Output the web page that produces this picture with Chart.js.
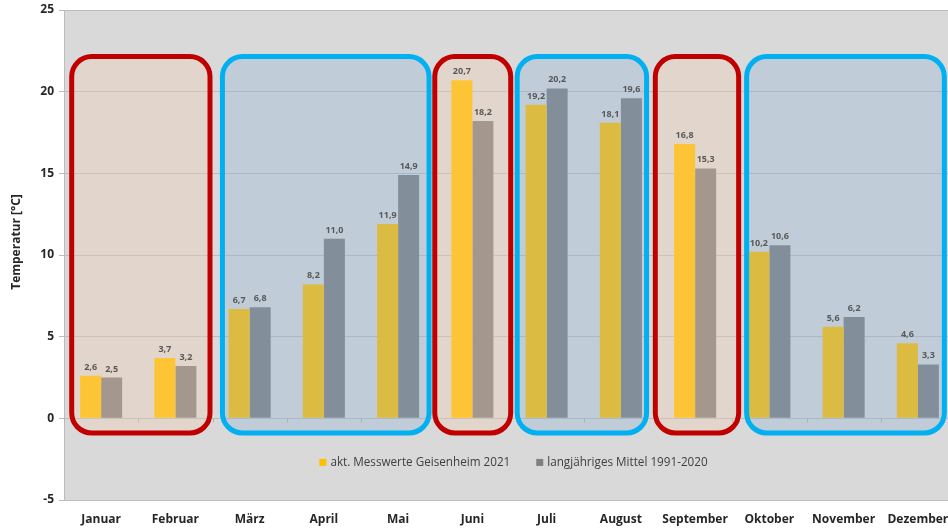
<!DOCTYPE html>
<html>
<head>
<meta charset="utf-8">
<script src="https://cdn.jsdelivr.net/npm/chart.js@4.4.0/dist/chart.umd.min.js"></script>
<style>
  body { margin: 0; background: #fff; overflow: hidden; }
  #wrap { width: 960px; height: 529px; }
</style>
</head>
<body>
<div id="wrap"><canvas id="tempChart"></canvas></div>
<script>
// data
var months = ['Januar', 'Februar', 'März', 'April', 'Mai', 'Juni', 'Juli', 'August', 'September', 'Oktober', 'November', 'Dezember']
var values2021 = [2.6, 3.7, 6.7, 8.2, 11.9, 20.7, 19.2, 18.1, 16.8, 10.2, 5.6, 4.6]
var valuesMean = [2.5, 3.2, 6.8, 11.0, 14.9, 18.2, 20.2, 19.6, 15.3, 10.6, 6.2, 3.3]
var seriesNames = ['akt. Messwerte Geisenheim 2021', 'langjähriges Mittel 1991-2020']
var yTitle = 'Temperatur [°C]'

// month groups marked with boxes (first month, last month, warm or cool)
var groupFrom = [0, 2, 5, 6, 8, 9]
var groupTo = [1, 4, 5, 7, 8, 11]
var groupKind = ['warm', 'cool', 'warm', 'cool', 'warm', 'cool']

// how far each box reaches past its months, in category widths
var boxPadL = [0.43, 0.40, 0.54, 0.43, 0.57, 0.34]
var boxPadR = [0.50, 0.45, 0.55, 0.38, 0.62, 0.39]

var FONT = "'Open Sans', sans-serif"
var boxStyle = {
  warm: { stroke: '#c00000', fill: 'rgba(250, 207, 174, 0.3)' },
  cool: { stroke: '#00b0f0', fill: 'rgba(140, 174, 217, 0.3)' }
}

function fmt (v) {
  return v.toFixed(1).replace('.', ',')
}

function roundRect (ctx, x, y, w, h, r) {
  ctx.beginPath()
  ctx.moveTo(x + r, y)
  ctx.lineTo(x + w - r, y)
  ctx.arcTo(x + w, y, x + w, y + r, r)
  ctx.lineTo(x + w, y + h - r)
  ctx.arcTo(x + w, y + h, x + w - r, y + h, r)
  ctx.lineTo(x + r, y + h)
  ctx.arcTo(x, y + h, x, y + h - r, r)
  ctx.lineTo(x, y + r)
  ctx.arcTo(x, y, x + r, y, r)
  ctx.closePath()
}

var decorations = {
  id: 'decorations',
  beforeDraw: function (chart) {
    var a = chart.chartArea
    var ctx = chart.ctx
    ctx.save()
    ctx.fillStyle = '#d9d9d9'
    ctx.fillRect(a.left, a.top, a.right - a.left, a.bottom - a.top)
    ctx.restore()
  },
  afterDatasetsDraw: function (chart) {
    var ctx = chart.ctx
    var x = chart.scales.x
    var y = chart.scales.y
    var cw = x.getPixelForValue(1) - x.getPixelForValue(0)

    // tick marks on the zero line between months
    ctx.save()
    ctx.strokeStyle = '#b4b4b4'
    ctx.lineWidth = 1
    var y0 = Math.round(y.getPixelForValue(0)) + 0.5
    for (var i = 0; i <= months.length; i++) {
      var bx = Math.round(x.getPixelForValue(i) - cw / 2) + 0.5
      ctx.beginPath()
      ctx.moveTo(bx, y0)
      ctx.lineTo(bx, y0 + 4)
      ctx.stroke()
    }
    ctx.restore()

    // boxes
    var lw = 5
    var top = y.getPixelForValue(22.3)
    var bottom = y.getPixelForValue(-1.05)
    for (var g = 0; g < groupFrom.length; g++) {
      var st = boxStyle[groupKind[g]]
      var l = x.getPixelForValue(groupFrom[g]) - boxPadL[g] * cw + lw / 2
      var r = x.getPixelForValue(groupTo[g]) + boxPadR[g] * cw - lw / 2
      var t = top + lw / 2
      var b = bottom - lw / 2
      ctx.save()
      roundRect(ctx, l, t, r - l, b - t, 20)
      ctx.fillStyle = st.fill
      ctx.fill()
      ctx.lineWidth = lw
      ctx.strokeStyle = st.stroke
      ctx.stroke()
      ctx.restore()
    }

    // value labels
    ctx.save()
    ctx.font = 'bold 9px ' + FONT
    ctx.fillStyle = '#595959'
    ctx.textAlign = 'center'
    ctx.textBaseline = 'bottom'
    chart.data.datasets.forEach(function (ds, di) {
      chart.getDatasetMeta(di).data.forEach(function (bar, k) {
        ctx.fillText(fmt(ds.data[k]), bar.x, bar.y - 4)
      })
    })
    ctx.restore()

    // legend inside the plot
    ctx.save()
    ctx.font = '11.7px ' + FONT
    ctx.textBaseline = 'middle'
    var sq = 7
    var gapSq = 4
    var gapItem = 26
    var widths = seriesNames.map(function (n) { return sq + gapSq + ctx.measureText(n).width })
    var total = widths[0] + gapItem + widths[1]
    var a = chart.chartArea
    var lx = (a.left + a.right) / 2 + 4 - total / 2
    var ly = y.getPixelForValue(-2.7)
    seriesNames.forEach(function (n, k) {
      ctx.fillStyle = chart.data.datasets[k].backgroundColor
      ctx.fillRect(lx, ly - sq / 2, sq, sq)
      ctx.fillStyle = '#404040'
      ctx.fillText(n, lx + sq + gapSq, ly)
      lx += widths[k] + gapItem
    })
    ctx.restore()

    // y axis title
    ctx.save()
    ctx.font = 'bold 12px ' + FONT
    ctx.fillStyle = '#262626'
    ctx.textAlign = 'center'
    ctx.textBaseline = 'middle'
    ctx.translate(17, 242)
    ctx.rotate(-Math.PI / 2)
    ctx.fillText(yTitle, 0, 0)
    ctx.restore()
  }
}

var ctx = document.getElementById('tempChart').getContext('2d')
var tempChart = new Chart(ctx, {
  type: 'bar',
  data: {
    labels: months,
    datasets: [
      { label: seriesNames[0], data: values2021, backgroundColor: '#ffc000' },
      { label: seriesNames[1], data: valuesMean, backgroundColor: '#808080' }
    ]
  },
  options: {
    responsive: true,
    maintainAspectRatio: false,
    animation: false,
    categoryPercentage: 0.566,
    barPercentage: 1.0,
    layout: { padding: { top: 10, right: 5, left: 0, bottom: 0 } },
    plugins: {
      legend: { display: false },
      tooltip: { enabled: false }
    },
    scales: {
      x: {
        grid: { display: false },
        border: { display: true, color: '#bfbfbf' },
        ticks: {
          color: '#262626',
          font: { family: FONT, size: 12, weight: 'bold' },
          maxRotation: 0,
          autoSkip: false,
          padding: 4
        },
        afterFit: function (s) { s.height = 29 }
      },
      y: {
        min: -5,
        max: 25,
        ticks: {
          stepSize: 5,
          color: '#262626',
          font: { family: FONT, size: 12, weight: 'bold', lineHeight: 1 },
          padding: 5
        },
        grid: { color: '#bcbcbc', tickLength: 5 },
        border: { color: '#bcbcbc' },
        afterFit: function (s) {
          s.width = 64
          s.paddingTop = 0
        }
      }
    }
  },
  plugins: [decorations]
})
</script>
</body>
</html>
